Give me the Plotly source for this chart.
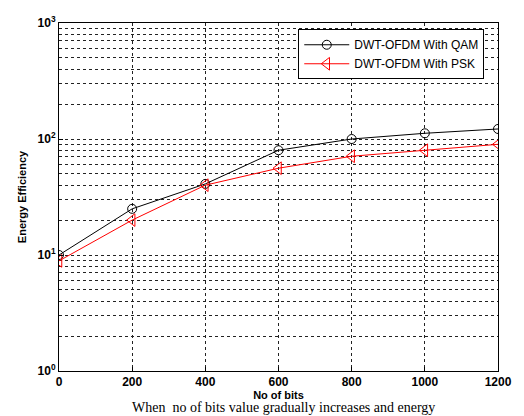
import plotly.graph_objects as go

bits = [0, 200, 400, 600, 800, 1000, 1200]
qam = [10, 25, 41, 80, 100, 112, 122]
psk = [8.9, 20, 40, 56, 71, 80, 90]
x_ticks = [0, 200, 400, 600, 800, 1000, 1200]
y_ticks = [1, 10, 100, 1000]
y_ticktext = ["10<sup>0</sup>", "10<sup>1</sup>", "10<sup>2</sup>", "10<sup>3</sup>"]

fig = go.Figure()
fig.add_trace(go.Scatter(x=bits, y=qam, mode="lines+markers", name="DWT-OFDM With QAM",
                         line=dict(color="black", width=1),
                         marker=dict(symbol="circle-open", size=9, color="black", line=dict(width=1))))
fig.add_trace(go.Scatter(x=bits, y=psk, mode="lines+markers", name="DWT-OFDM With PSK",
                         line=dict(color="red", width=1),
                         marker=dict(symbol="triangle-left-open", size=11, color="red", line=dict(width=1))))

grid_dash = "3px,3px"
grid_col = "#222"

fig.update_layout(
    width=524, height=416,
    margin=dict(l=59, r=21, t=23, b=45),
    paper_bgcolor="white", plot_bgcolor="white",
    font=dict(family="Liberation Sans, Arial", color="black", size=11),
    legend=dict(x=0.545, y=0.982, xanchor="left", yanchor="top",
                bgcolor="white", bordercolor="black", borderwidth=1,
                font=dict(size=12, family="Liberation Sans, Arial"),
                itemwidth=45, tracegroupgap=0),
    showlegend=True,
)
fig.update_xaxes(range=[0, 1200], tickvals=x_ticks, ticktext=[f"<b>{v}</b>" for v in x_ticks],
                 showline=True, linecolor="black", linewidth=1, mirror=True,
                 ticks="inside", ticklen=4, tickcolor="black",
                 showgrid=True, gridcolor=grid_col, griddash=grid_dash, gridwidth=1,
                 zeroline=False,
                 title=dict(text="<b>No of bits</b>", standoff=2, font=dict(size=11)),
                 tickfont=dict(size=12))
fig.update_yaxes(type="log", range=[0, 3], tickvals=y_ticks,
                 ticktext=[f"<b>{t}</b>" for t in y_ticktext],
                 showline=True, linecolor="black", linewidth=1, mirror=True,
                 ticks="inside", ticklen=4, tickcolor="black",
                 showgrid=True, gridcolor=grid_col, griddash=grid_dash, gridwidth=1,
                 minor=dict(showgrid=True, gridcolor=grid_col, griddash=grid_dash, gridwidth=1,
                            tickvals=[m * d for d in [1, 10, 100] for m in range(2, 10)],
                            ticks=""),
                 zeroline=False,
                 title=dict(text="<b>Energy Efficiency</b>", standoff=8, font=dict(size=11)),
                 tickfont=dict(size=12))

fig.add_annotation(text="When  no of bits value gradually increases and energy",
                   xref="paper", yref="paper", x=0.512, y=-0.131, xanchor="center", yanchor="bottom",
                   showarrow=False, font=dict(family="Liberation Serif, Times New Roman", size=14, color="black"))

fig.write_html("out.html")
